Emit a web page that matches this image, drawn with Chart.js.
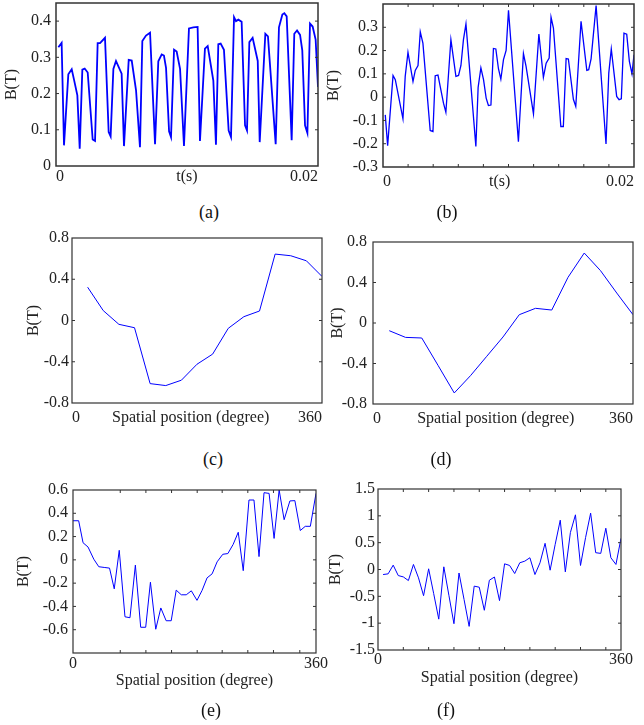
<!DOCTYPE html>
<html>
<head>
<meta charset="utf-8">
<script src="https://cdn.jsdelivr.net/npm/chart.js@4.4.1/dist/chart.umd.min.js"></script>
<style>
  body { margin: 0; background: #fff; }
  #fig { position: relative; width: 644px; height: 725px; overflow: hidden; }
  #fig canvas { position: absolute; }
  .cap { position: absolute; width: 60px; text-align: center; font: 18px 'Liberation Serif', serif; line-height: 20px; color: #111; }
</style>
</head>
<body>
<div id="fig">
  <canvas id="pa" width="330" height="200" style="left:0px;top:0px"></canvas>
  <canvas id="pb" width="322" height="200" style="left:322px;top:0px"></canvas>
  <canvas id="pc" width="330" height="215" style="left:0px;top:225px"></canvas>
  <canvas id="pd" width="322" height="215" style="left:322px;top:225px"></canvas>
  <canvas id="pe" width="330" height="230" style="left:0px;top:475px"></canvas>
  <canvas id="pf" width="322" height="230" style="left:322px;top:475px"></canvas>
  <div class="cap" style="left:179px;top:202px">(a)</div>
  <div class="cap" style="left:417px;top:202px">(b)</div>
  <div class="cap" style="left:183px;top:449px">(c)</div>
  <div class="cap" style="left:411px;top:449px">(d)</div>
  <div class="cap" style="left:181px;top:700px">(e)</div>
  <div class="cap" style="left:416px;top:700px">(f)</div>
</div>
<script>
// --- data ---
// (a) B(t), time in s
const aTime = [0.00018,0.00043,0.00061,0.00094,0.0012,0.00137,0.00163,0.00181,0.00201,0.00219,
  0.00242,0.0028,0.00298,0.00318,0.00336,0.00374,0.00402,0.00417,0.00438,0.00458,
  0.00501,0.00519,0.00555,0.00578,0.00611,0.00641,0.00659,0.00687,0.00718,0.00756,
  0.00781,0.00807,0.00824,0.0084,0.00863,0.00878,0.00901,0.00921,0.00947,0.00977,
  0.01015,0.01048,0.01081,0.01099,0.01137,0.01158,0.01201,0.01221,0.01239,0.01257,
  0.01282,0.01318,0.01336,0.01359,0.01374,0.01392,0.01417,0.01443,0.01458,0.01476,
  0.01501,0.0154,0.01555,0.01598,0.01618,0.01677,0.01702,0.01728,0.01743,0.01761,
  0.01799,0.01819,0.0184,0.01863,0.0188,0.01901,0.01919,0.01939,0.01959,0.01982,0.02];
const aB = [0.328,0.34,0.057,0.253,0.267,0.239,0.195,0.048,0.266,0.269,
  0.258,0.073,0.069,0.339,0.339,0.354,0.094,0.082,0.268,0.29,
  0.255,0.055,0.293,0.291,0.209,0.052,0.345,0.36,0.368,0.06,
  0.289,0.308,0.305,0.271,0.096,0.08,0.321,0.316,0.268,0.055,
  0.38,0.383,0.384,0.069,0.324,0.331,0.236,0.059,0.336,0.338,
  0.321,0.098,0.08,0.411,0.4,0.404,0.398,0.112,0.098,0.342,
  0.354,0.29,0.066,0.365,0.358,0.06,0.383,0.418,0.422,0.413,
  0.071,0.365,0.374,0.362,0.319,0.112,0.091,0.393,0.385,0.349,0.218];

// (b) B(t), time in s
const bTime = [0.00018,0.00037,0.0008,0.00098,0.00159,0.00177,0.00199,0.00239,0.00257,0.00279,
  0.00297,0.00318,0.00376,0.00398,0.00416,0.00438,0.00482,0.00501,0.00541,0.00581,
  0.00602,0.00621,0.00641,0.00661,0.0074,0.00758,0.0078,0.00801,0.00822,0.0084,
  0.0086,0.0088,0.00899,0.0092,0.00939,0.0096,0.00981,0.01,0.01079,0.01119,
  0.0114,0.01199,0.01242,0.01278,0.013,0.01324,0.01339,0.01358,0.01417,0.01437,
  0.01459,0.01477,0.01517,0.01536,0.01578,0.01624,0.01639,0.01658,0.01698,0.01777,
  0.01799,0.01819,0.01862,0.01881,0.01899,0.0192,0.01942,0.01963,0.01984,0.02];
const bB = [-0.076,-0.208,0.093,0.075,-0.093,0.089,0.192,0.067,0.115,0.136,
  0.28,0.232,-0.143,-0.148,0.092,0.095,-0.026,-0.065,0.247,0.089,
  0.093,0.136,0.247,0.314,-0.212,0.042,0.126,0.075,-0.004,-0.036,
  -0.034,0.209,0.207,0.122,0.077,0.161,0.201,0.373,-0.191,0.187,
  0.132,-0.072,0.271,0.085,0.146,0.168,0.343,0.297,-0.126,-0.126,
  0.166,0.164,-0.009,-0.04,0.326,0.115,0.118,0.164,0.393,-0.201,
  0.103,0.207,0.003,-0.011,-0.007,0.275,0.27,0.154,0.1,0.182];

// (c), (d) B over spatial position, degrees
const cdDeg = [22.5,45,67.5,90,112.5,135,157.5,180,202.5,225,247.5,270,292.5,315,337.5,360];
const cB = [0.323,0.096,-0.037,-0.07,-0.612,-0.631,-0.579,-0.424,-0.326,-0.076,0.037,0.092,0.644,0.628,0.579,0.427];
const dB = [-0.076,-0.142,-0.148,-0.418,-0.691,-0.52,-0.329,-0.138,0.082,0.145,0.128,0.451,0.691,0.517,0.296,0.082];

// (e) B over spatial position, degrees
const eDeg = [0,8.4,14.9,22.3,30.8,38.2,46.2,54.1,61.1,68.5,77,84.4,92.4,100.3,107.7,114.7,
  122.6,130.1,138,145.5,152.9,160.4,167.8,175.3,183.7,191.2,198.6,206.1,213.5,221.9,229.4,237.3,
  244.8,252.2,260.7,268.1,275.6,283,290.5,297.9,305.4,312.8,321.3,328.7,336.7,344.1,351.6,360];
const eB = [0.336,0.336,0.147,0.11,0.006,-0.059,-0.065,-0.071,-0.249,0.082,-0.489,-0.497,-0.045,-0.579,-0.579,-0.192,
  -0.596,-0.413,-0.523,-0.523,-0.26,-0.3,-0.3,-0.266,-0.348,-0.263,-0.155,-0.12,-0.017,0.048,0.054,0.133,
  0.237,-0.093,0.514,0.514,0.028,0.577,0.571,0.184,0.6,0.345,0.506,0.509,0.252,0.288,0.288,0.571];

// (f) B over spatial position, degrees
const fDeg = [7.5,15,22.5,30,37.5,45,52.5,60,67.5,75,82.5,90,97.5,105,112.5,120,
  127.5,135,142.5,150,157.5,165,172.5,180,187.5,195,202.5,210,217.5,225,232.5,240,
  247.5,255,262.5,270,277.5,285,292.5,300,307.5,315,322.5,330,337.5,345,352.5,360];
const fB = [-0.094,-0.081,0.081,-0.113,-0.138,-0.206,0.094,-0.156,-0.488,0.013,-0.45,-0.925,0.05,-0.48,-1.01,-0.065,
  -0.56,-1.06,-0.31,-0.33,-0.76,-0.2,-0.14,-0.58,0.106,0.075,-0.075,0.125,0.156,0.219,-0.094,0.125,
  0.488,-0.013,0.469,0.919,-0.044,0.688,1.019,0.075,0.594,1.05,0.313,0.3,0.769,0.219,0.094,0.581];

// tick values and labels
const tickB_a = [0,0.1,0.2,0.3,0.4];
const tickB_b = [-0.3,-0.2,-0.1,0,0.1,0.2,0.3];
const tickB_cd = [-0.8,-0.4,0,0.4,0.8];
const tickB_e = [-0.6,-0.4,-0.2,0,0.2,0.4,0.6];
const tickB_f = [-1.5,-1,-0.5,0,0.5,1,1.5];
const timeLabels = ['0','t(s)','0.02'];
const spaceLabels = ['0','Spatial position (degree)','360'];
const endLabels = ['0','360'];
const xLabel = 'Spatial position (degree)';

Chart.defaults.font.family = "'Liberation Serif', 'Times New Roman', serif";
Chart.defaults.font.size = 16;
Chart.defaults.color = '#222';

// box round the plot area + small inward tick marks
const framePlugin = {
  id: 'frame',
  afterDatasetsDraw(chart, args, o) {
    const { ctx, chartArea: a } = chart;
    const xs = chart.scales.x, ys = chart.scales.y;
    ctx.save();
    ctx.strokeStyle = o.color;
    ctx.lineWidth = o.width;
    ctx.strokeRect(a.left, a.top, a.right - a.left, a.bottom - a.top);
    ctx.beginPath();
    (o.yMarks || []).forEach(v => {
      const py = ys.getPixelForValue(v);
      ctx.moveTo(a.left, py); ctx.lineTo(a.left + 3, py);
      ctx.moveTo(a.right, py); ctx.lineTo(a.right - 3, py);
    });
    (o.xMarks || []).forEach(v => {
      const px = xs.getPixelForValue(v);
      ctx.moveTo(px, a.top); ctx.lineTo(px, a.top + 3);
      ctx.moveTo(px, a.bottom); ctx.lineTo(px, a.bottom - 3);
    });
    ctx.lineWidth = 1;
    ctx.stroke();
    ctx.restore();
  }
};

function makePanel(id, xs, ys, p) {
  const pts = xs.map((x, i) => ({ x: x, y: ys[i] }));
  return new Chart(document.getElementById(id), {
    type: 'line',
    data: { datasets: [{ data: pts, borderColor: '#0000ff', borderWidth: p.lw, pointRadius: 0, tension: 0, fill: false }] },
    options: {
      responsive: false,
      animation: false,
      devicePixelRatio: 1,
      layout: { padding: p.pad },
      plugins: {
        legend: { display: false },
        tooltip: { enabled: false },
        frame: { color: '#333', width: p.bw, xMarks: p.xMarks, yMarks: p.yMarks }
      },
      scales: {
        x: {
          type: 'linear', min: p.xMin, max: p.xMax,
          grid: { display: false, drawTicks: false },
          border: { display: false },
          afterBuildTicks: s => { s.ticks = p.xTicks.map(v => ({ value: v })); },
          afterFit: s => { s.height = p.xH; s.paddingLeft = 0; s.paddingRight = 0; },
          ticks: { align: p.xAlign, padding: p.xPad, maxRotation: 0, autoSkip: false,
                   callback: (v, i) => p.xLabels[i] },
          title: p.xTitle ? { display: true, text: p.xTitle, padding: 0 } : { display: false }
        },
        y: {
          type: 'linear', min: p.yMin, max: p.yMax,
          grid: { display: false, drawTicks: false },
          border: { display: false },
          afterBuildTicks: s => { s.ticks = p.yTicks.map(v => ({ value: v })); },
          afterFit: s => { s.width = p.yW; s.paddingTop = 0; s.paddingBottom = 0; },
          ticks: { padding: p.yPad, autoSkip: false, callback: v => String(v) },
          title: { display: true, text: 'B(T)', padding: { top: p.tPad, bottom: 0 } }
        }
      }
    },
    plugins: [framePlugin]
  });
}

makePanel('pa', aTime, aB, {
  lw: 1.8, bw: 1.5, pad: { left: 0, top: 3, right: 12, bottom: 4 },
  xMin: 0, xMax: 0.02, xTicks: [0, 0.01, 0.02], xLabels: timeLabels, xAlign: 'inner', xPad: 1, xH: 30,
  yMin: 0, yMax: 0.45, yTicks: tickB_a, yPad: 5, yW: 56, tPad: 2,
  yMarks: [0.1, 0.2, 0.3, 0.4], xMarks: []
});

makePanel('pb', bTime, bB, {
  lw: 1.3, bw: 1.5, pad: { left: 0, top: 4, right: 10, bottom: 3 },
  xMin: 0, xMax: 0.02, xTicks: [0, 0.0093, 0.02], xLabels: timeLabels, xAlign: 'inner', xPad: 5, xH: 30,
  yMin: -0.3, yMax: 0.4, yTicks: tickB_b, yPad: 5, yW: 61, tPad: 2,
  yMarks: [-0.2, -0.1, 0, 0.1, 0.2, 0.3],
  xMarks: [0.002, 0.004, 0.006, 0.008, 0.01, 0.012, 0.014, 0.016, 0.018]
});

makePanel('pc', cdDeg, cB, {
  lw: 1, bw: 1.2, pad: { left: 23, top: 13, right: 8, bottom: 7 },
  xMin: 0, xMax: 360, xTicks: [0, 171, 360], xLabels: spaceLabels, xAlign: 'inner', xPad: 5, xH: 30,
  yMin: -0.8, yMax: 0.8, yTicks: tickB_cd, yPad: 3, yW: 49, tPad: 1,
  yMarks: [-0.4, 0, 0.4], xMarks: []
});

makePanel('pd', cdDeg, dB, {
  lw: 1, bw: 1.2, pad: { left: 6, top: 17, right: 11, bottom: 6 },
  xMin: 0, xMax: 360, xTicks: [0, 170, 360], xLabels: spaceLabels, xAlign: 'inner', xPad: 5, xH: 30,
  yMin: -0.8, yMax: 0.8, yTicks: tickB_cd, yPad: 6, yW: 45, tPad: 0,
  yMarks: [-0.4, 0, 0.4], xMarks: []
});

makePanel('pe', eDeg, eB, {
  lw: 1, bw: 1.2, pad: { left: 14, top: 15, right: 14, bottom: 15 },
  xMin: 0, xMax: 360, xTicks: [0, 360], xLabels: endLabels, xAlign: 'center', xPad: 1, xH: 37, xTitle: xLabel,
  yMin: -0.8, yMax: 0.6, yTicks: tickB_e, yPad: 5, yW: 59, tPad: 0,
  yMarks: [-0.6, -0.4, -0.2, 0, 0.2, 0.4],
  xMarks: [70, 108, 146, 184, 221, 259, 297, 336]
});

makePanel('pf', fDeg, fB, {
  lw: 1, bw: 1.2, pad: { left: 4, top: 14, right: 23, bottom: 18 },
  xMin: 0, xMax: 360, xTicks: [0, 360], xLabels: endLabels, xAlign: 'center', xPad: 0, xH: 37, xTitle: xLabel,
  yMin: -1.5, yMax: 1.5, yTicks: tickB_f, yPad: 3, yW: 52, tPad: 0,
  yMarks: [-1, -0.5, 0, 0.5, 1],
  xMarks: [37.5, 75, 112.5, 150, 187.5, 225, 262.5, 300, 337.5]
});
</script>
</body>
</html>
